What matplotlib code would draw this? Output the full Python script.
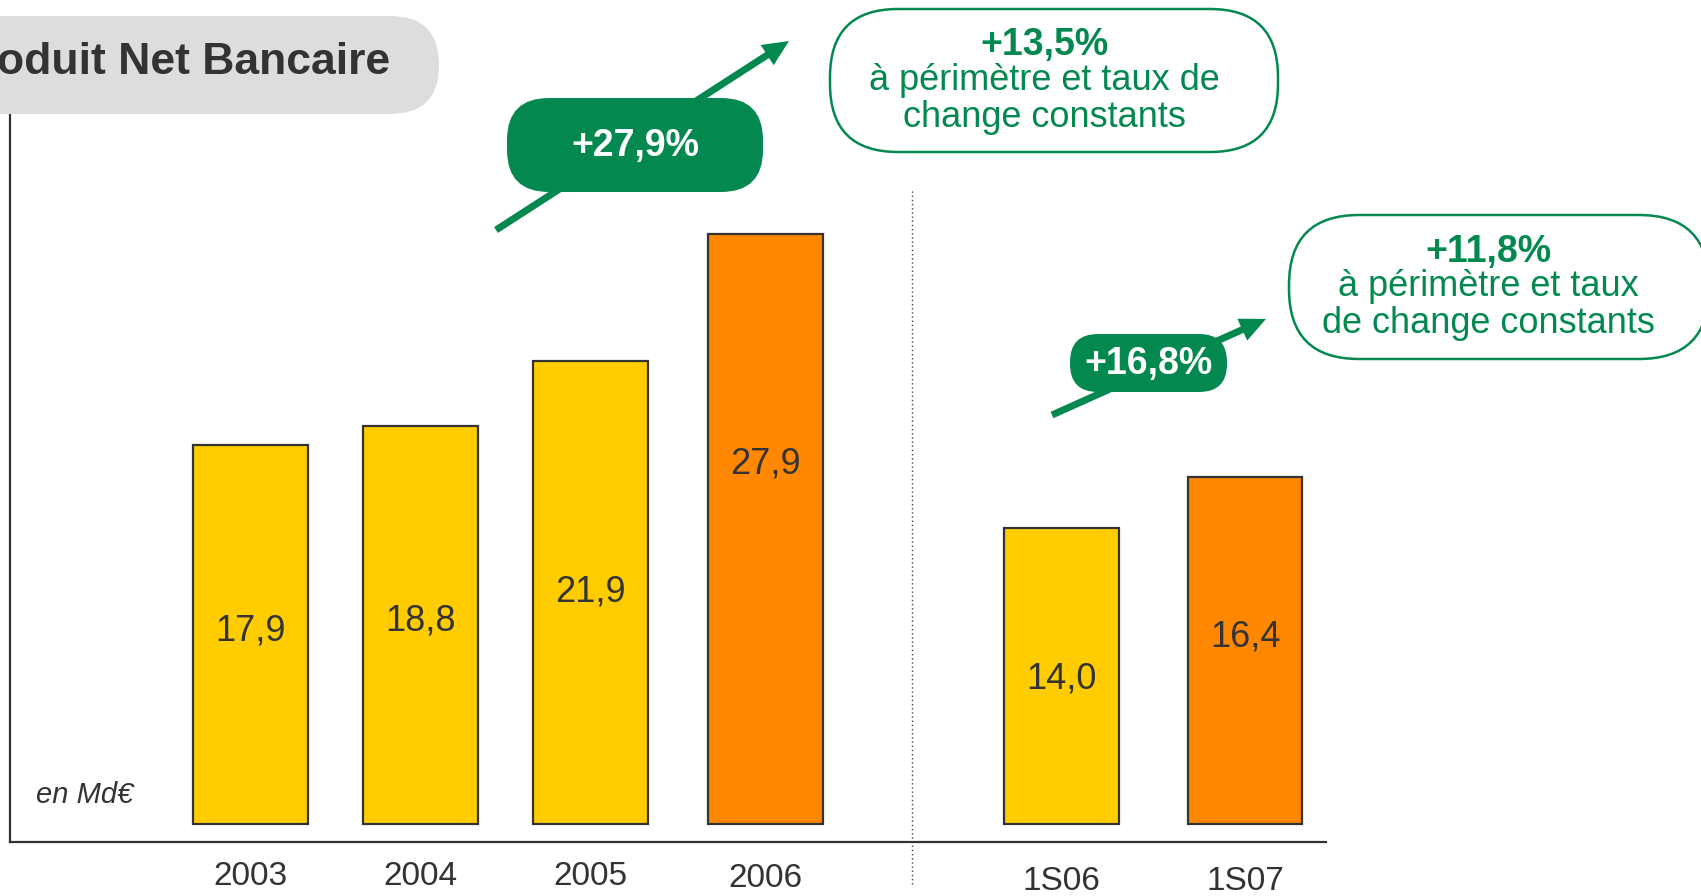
import matplotlib
matplotlib.use("Agg")
import matplotlib.pyplot as plt
from matplotlib.patches import FancyBboxPatch, FancyArrow

plt.rcParams['font.family'] = ['Liberation Sans', 'DejaVu Sans']

# Data (Md€)
categories = ['2003', '2004', '2005', '2006', '1S06', '1S07']
pnb = [17.9, 18.8, 21.9, 27.9, 14.0, 16.4]
bar_colors = ['#FFCC00', '#FFCC00', '#FFCC00', '#FF8800', '#FFCC00', '#FF8800']
growth = ['+27,9%', '+16,8%']
growth_const = ['+13,5%', '+11,8%']
const_text = ['à périmètre et taux de\nchange constants',
              'à périmètre et taux\nde change constants']

# layout
x_pos = [0, 1, 2, 3.03, 4.77, 5.85]
label_frac = [0.51, 0.51, 0.50, 0.61, 0.49, 0.54]
tick_off = [34, 34, 34, 36, 39, 39]
GREEN = '#03894F'
DARK = '#333333'

W, H = 1701, 896
fig = plt.figure(figsize=(W / 100, H / 100), dpi=100)

# main bar axes
ax = fig.add_axes([10 / W, 54 / H, 1316 / W, 728 / H])
ax.bar(x_pos, pnb, width=0.673, color=bar_colors, edgecolor=DARK, linewidth=1.6, zorder=2)
ax.set_xlim(-1.415, 6.326)
ax.set_ylim(-0.851, 33.57)
for s in ['top', 'right']:
    ax.spines[s].set_visible(False)
for s in ['left', 'bottom']:
    ax.spines[s].set_color(DARK)
    ax.spines[s].set_linewidth(1.6)
ax.set_xticks([])
ax.set_yticks([])

for x, v, f in zip(x_pos, pnb, label_frac):
    ax.text(x, v * f, f"{v:.1f}".replace('.', ','), ha='center', va='center',
            fontsize=26, color=DARK)

for x, c, off in zip(x_pos, categories, tick_off):
    ax.annotate(c, xy=(x, 0), xycoords=('data', 'axes fraction'),
                xytext=(0, -off), textcoords='offset pixels',
                ha='center', va='center', fontsize=24, color=DARK,
                annotation_clip=False)

# separator between years and half-years
ax.axvline(3.89, ymin=-0.058, ymax=0.896, color='#444444', lw=1, ls=(0, (1, 2)),
           clip_on=False)

ax.text(36 / W, 1 - 795 / H, 'en Md€', transform=fig.transFigure, fontsize=21,
        style='italic', color=DARK, ha='left', va='center')

# overlay in pixel coordinates for the slide decorations
ov = fig.add_axes([0, 0, 1, 1], zorder=5)
ov.set_xlim(0, W)
ov.set_ylim(H, 0)
ov.axis('off')

# title pill
ov.add_patch(FancyBboxPatch((-80, 16), 519, 98, boxstyle='round,pad=0,rounding_size=49',
                            fc='#DDDDDD', ec='none'))
ov.text(390, 63, 'Produit Net Bancaire', ha='right', va='center', fontsize=32,
        fontweight='bold', color=DARK)

# arrows
ov.add_patch(FancyArrow(496, 230, 789 - 496, 41 - 230, width=7, head_width=24,
                        head_length=26, length_includes_head=True, color=GREEN, lw=0))
ov.add_patch(FancyArrow(1052, 415, 1266 - 1052, 319 - 415, width=7, head_width=24,
                        head_length=26, length_includes_head=True, color=GREEN, lw=0))

# filled growth pills
ov.add_patch(FancyBboxPatch((507, 98), 256, 94, boxstyle='round,pad=0,rounding_size=42',
                            fc=GREEN, ec='none', zorder=3))
ov.text(635, 146, growth[0], ha='center', va='center', fontsize=27,
        fontweight='bold', color='white', zorder=4)
ov.add_patch(FancyBboxPatch((1070, 334), 157, 58, boxstyle='round,pad=0,rounding_size=28',
                            fc=GREEN, ec='none', zorder=3))
ov.text(1148, 364, growth[1], ha='center', va='center', fontsize=27,
        fontweight='bold', color='white', zorder=4)

# outlined constant-scope pills
ov.add_patch(FancyBboxPatch((830, 9), 448, 143, boxstyle='round,pad=0,rounding_size=68',
                            fc='white', ec=GREEN, lw=1.8))
ov.text(1044, 45, growth_const[0], ha='center', va='center', fontsize=27,
        fontweight='bold', color=GREEN)
ov.text(1044, 99, const_text[0], ha='center', va='center', fontsize=26,
        color=GREEN, linespacing=1.05)
ov.add_patch(FancyBboxPatch((1289, 215), 420, 144, boxstyle='round,pad=0,rounding_size=70',
                            fc='white', ec=GREEN, lw=1.8))
ov.text(1488, 252, growth_const[1], ha='center', va='center', fontsize=27,
        fontweight='bold', color=GREEN)
ov.text(1488, 305, const_text[1], ha='center', va='center', fontsize=26,
        color=GREEN, linespacing=1.05)

fig.savefig('out.png', dpi=100)
